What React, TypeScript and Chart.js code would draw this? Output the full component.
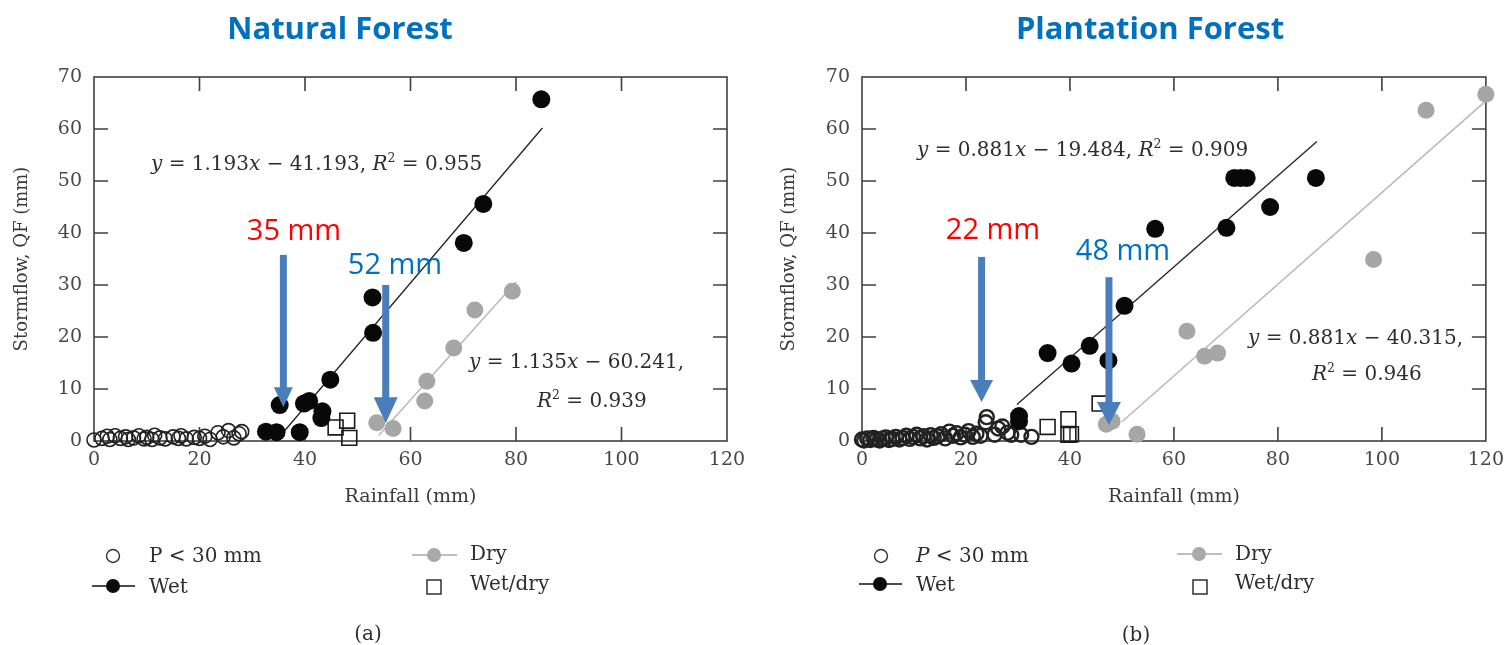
import React, { useEffect, useRef } from "react";
import { Chart, registerables } from "chart.js";

Chart.register(...registerables);

const SERIF = "'DejaVu Serif', serif";
const SANS = "'Open Sans', sans-serif";
const BLUE = "#0070C0";
const RED = "#FF0000";
const ARROW = "#4A7EBB";

// ---- axes ----
const X_TICKS = [0, 20, 40, 60, 80, 100, 120];
const Y_TICKS = [0, 10, 20, 30, 40, 50, 60, 70];
const X_TITLE = "Rainfall (mm)";
const Y_TITLE = "Stormflow, QF (mm)";

// ---- (a) Natural Forest ----
const NF_P30_X = [0, 1.5, 2.5, 3, 4, 5, 6, 6.5, 7.5, 8.5, 9.5, 10, 11, 11.5, 12.5, 13.5, 15, 16, 16.5, 17.5, 19, 20, 21, 22, 23.5, 24.5, 25.5, 26.5, 27.5, 28];
const NF_P30_Y = [0.2, 0.5, 0.9, 0.3, 1.0, 0.5, 0.8, 0.3, 0.6, 1.0, 0.4, 0.7, 0.3, 1.1, 0.6, 0.4, 0.8, 0.5, 1.0, 0.4, 0.7, 0.5, 0.9, 0.3, 1.6, 0.8, 2.0, 0.6, 1.4, 1.8];
const NF_WET_X = [32.6, 34.6, 35.2, 39, 39.8, 40.8, 43.3, 43.1, 44.8, 52.8, 52.9, 70.1, 73.8, 84.8];
const NF_WET_Y = [1.8, 1.7, 6.9, 1.7, 7.2, 7.7, 5.7, 4.4, 11.8, 27.6, 20.8, 38.1, 45.6, 65.7];
const NF_DRY_X = [53.6, 56.7, 62.7, 63.1, 68.2, 72.2, 79.3];
const NF_DRY_Y = [3.5, 2.4, 7.7, 11.5, 17.9, 25.2, 28.8];
const NF_WD_X = [45.8, 48, 48.4];
const NF_WD_Y = [2.6, 3.9, 0.6];
const NF_WET_FIT_X = [35.5, 85];
const NF_WET_FIT_Y = [1.2, 60.2];
const NF_DRY_FIT_X = [54, 80];
const NF_DRY_FIT_Y = [1.1, 30.6];
const NF_ARROWS = [
  { x: 35.9, from: 35.8, to: 6.5, shaft: 7, headW: 19, headL: 20 },
  { x: 55.3, from: 30, to: 3.4, shaft: 7, headW: 24, headL: 26 },
];

// ---- (b) Plantation Forest ----
const PF_P30_X = [0, 0.4, 1, 1.6, 2.2, 2.8, 3.4, 4, 4.6, 5.2, 5.8, 6.5, 7.2, 7.8, 8.5, 9.2, 9.8, 10.5, 11.2, 11.8, 12.5, 13.2, 13.8, 14.5, 15.2, 16, 16.8, 17.5, 18.2, 19, 19.8, 20.5, 21.3, 22, 22.8, 23.8, 24, 25.5, 26.2, 27, 28, 28.7, 30.6, 32.6];
const PF_P30_Y = [0.3, 0.1, 0.5, 0.2, 0.6, 0.3, 0.1, 0.5, 0.7, 0.2, 0.4, 0.8, 0.3, 0.6, 1.0, 0.4, 0.8, 1.2, 0.5, 0.9, 0.3, 1.1, 0.6, 0.9, 1.3, 0.5, 1.8, 1.0, 1.5, 0.7, 1.2, 1.9, 0.8, 1.4, 1.0, 3.6, 4.6, 1.2, 2.4, 2.8, 1.6, 1.2, 1.2, 0.8];
const PF_WET_X = [30.2, 30.2, 35.7, 40.3, 43.8, 47.4, 50.5, 56.4, 70.1, 71.6, 72.8, 74, 78.5, 87.3];
const PF_WET_Y = [4.8, 3.8, 16.9, 14.9, 18.3, 15.5, 26, 40.8, 41, 50.6, 50.6, 50.6, 45, 50.6];
const PF_DRY_X = [47, 48.1, 52.9, 62.5, 65.9, 68.4, 98.4, 108.5, 120];
const PF_DRY_Y = [3.2, 3.8, 1.3, 21.1, 16.3, 16.9, 34.9, 63.6, 66.7];
const PF_WD_X = [35.7, 39.7, 39.7, 40.2, 45.7];
const PF_WD_Y = [2.7, 4.2, 1.2, 1.3, 7.2];
const PF_WET_FIT_X = [29.8, 87.5];
const PF_WET_FIT_Y = [7, 57.6];
const PF_DRY_FIT_X = [50, 120];
const PF_DRY_FIT_Y = [3.7, 65.4];
const PF_ARROWS = [
  { x: 23, from: 35.4, to: 7.5, shaft: 7, headW: 23, headL: 22 },
  { x: 47.5, from: 31.5, to: 3.1, shaft: 7, headW: 24, headL: 23 },
];

type Arrow = { x: number; from: number; to: number; shaft: number; headW: number; headL: number };
type Spec = {
  left: number; width: number; padLeft: number; padRight: number; yAxisWidth: number; p30Border: number;
  p30x: number[]; p30y: number[]; wetx: number[]; wety: number[];
  dryx: number[]; dryy: number[]; wdx: number[]; wdy: number[];
  wfx: number[]; wfy: number[]; dfx: number[]; dfy: number[];
  arrows: Arrow[];
};

const CANVAS_H = 520;

function buildChart(canvas: HTMLCanvasElement, s: Spec) {
  const pts = (xs: number[], ys: number[]) => xs.map((x, i) => ({ x, y: ys[i] }));
  const framePlugin = {
    id: "frameTicks",
    beforeDatasetsDraw(chart: any) {
      const { ctx, chartArea: a, scales } = chart;
      ctx.save();
      ctx.strokeStyle = "#404040";
      ctx.lineWidth = 1.6;
      ctx.strokeRect(a.left, a.top, a.right - a.left, a.bottom - a.top);
      const L = 14;
      ctx.beginPath();
      X_TICKS.forEach((v) => {
        if (v === X_TICKS[0] || v === X_TICKS[X_TICKS.length - 1]) return;
        const px = scales.x.getPixelForValue(v);
        ctx.moveTo(px, a.bottom); ctx.lineTo(px, a.bottom - L);
        ctx.moveTo(px, a.top); ctx.lineTo(px, a.top + L);
      });
      Y_TICKS.forEach((v) => {
        if (v === Y_TICKS[0] || v === Y_TICKS[Y_TICKS.length - 1]) return;
        const py = scales.y.getPixelForValue(v);
        ctx.moveTo(a.left, py); ctx.lineTo(a.left + L, py);
        ctx.moveTo(a.right, py); ctx.lineTo(a.right - L, py);
      });
      ctx.stroke();
      ctx.restore();
    },
  };
  const arrowPlugin = {
    id: "arrows",
    afterDatasetsDraw(chart: any) {
      const { ctx, scales } = chart;
      ctx.save();
      ctx.fillStyle = ARROW;
      s.arrows.forEach((a) => {
        const x = scales.x.getPixelForValue(a.x);
        const y0 = scales.y.getPixelForValue(a.from);
        const y1 = scales.y.getPixelForValue(a.to);
        const hb = y1 - a.headL;
        ctx.fillRect(x - a.shaft / 2, y0, a.shaft, hb - y0 + 1);
        ctx.beginPath();
        ctx.moveTo(x - a.headW / 2, hb);
        ctx.lineTo(x + a.headW / 2, hb);
        ctx.lineTo(x, y1);
        ctx.closePath();
        ctx.fill();
      });
      ctx.restore();
    },
  };
  const tickFont = { family: SERIF, size: 19 };
  return new Chart(canvas, {
    type: "scatter",
    data: {
      datasets: [
        { label: "Wet", data: pts(s.wetx, s.wety), pointRadius: 9, pointBackgroundColor: "#080808", pointBorderColor: "#080808", pointBorderWidth: 0, clip: false } as any,
        { label: "Dry", data: pts(s.dryx, s.dryy), pointRadius: 8.5, pointBackgroundColor: "#a6a6a6", pointBorderColor: "#a6a6a6", pointBorderWidth: 0, clip: false },
        { label: "Wet/dry", data: pts(s.wdx, s.wdy), pointStyle: "rect", pointRadius: 10.5, pointBackgroundColor: "rgba(255,255,255,0)", pointBorderColor: "#1a1a1a", pointBorderWidth: 1.6, clip: false },
        { label: "P < 30 mm", data: pts(s.p30x, s.p30y), pointRadius: 7, pointBackgroundColor: "rgba(255,255,255,0)", pointBorderColor: "#222", pointBorderWidth: s.p30Border, clip: false },
        { label: "Wet fit", data: pts(s.wfx, s.wfy), showLine: true, pointRadius: 0, borderColor: "#222", borderWidth: 1.3, clip: false },
        { label: "Dry fit", data: pts(s.dfx, s.dfy), showLine: true, pointRadius: 0, borderColor: "#b8b8b8", borderWidth: 1.5, clip: false },
      ],
    },
    options: {
      animation: false,
      responsive: false,
      maintainAspectRatio: false,
      events: [],
      layout: { autoPadding: false, padding: { left: s.padLeft, right: s.padRight, top: 77, bottom: 12 } } as any,
      plugins: { legend: { display: false }, tooltip: { enabled: false }, title: { display: false } },
      scales: {
        x: {
          type: "linear", min: X_TICKS[0], max: X_TICKS[X_TICKS.length - 1],
          afterBuildTicks: (sc: any) => { sc.ticks = X_TICKS.map((v) => ({ value: v })); },
          afterFit: (sc: any) => { sc.height = 67; },
          grid: { display: false, drawTicks: false, tickLength: 0 },
          border: { display: false },
          ticks: { padding: 8, color: "#484848", font: tickFont, maxRotation: 0, autoSkip: false },
          title: { display: true, text: X_TITLE, color: "#3a3a3a", font: tickFont, padding: 0 },
        },
        y: {
          type: "linear", min: Y_TICKS[0], max: Y_TICKS[Y_TICKS.length - 1],
          afterBuildTicks: (sc: any) => { sc.ticks = Y_TICKS.map((v) => ({ value: v })); },
          afterFit: (sc: any) => { sc.width = s.yAxisWidth; },
          grid: { display: false, drawTicks: false, tickLength: 0 },
          border: { display: false },
          ticks: { padding: 12, color: "#484848", font: tickFont, autoSkip: false },
          title: { display: true, text: Y_TITLE, color: "#3a3a3a", font: { family: SERIF, size: 18 }, padding: 0 },
        },
      },
    } as any,
    plugins: [framePlugin, arrowPlugin],
  });
}

function PanelCanvas({ spec }: { spec: Spec }) {
  const ref = useRef<HTMLCanvasElement>(null);
  useEffect(() => {
    if (!ref.current) return;
    const c = buildChart(ref.current, spec);
    return () => c.destroy();
  }, [spec]);
  return (
    <canvas
      ref={ref}
      width={spec.width}
      height={CANVAS_H}
      style={{ position: "absolute", left: spec.left, top: 0, width: spec.width, height: CANVAS_H }}
    />
  );
}

const NF_SPEC: Spec = {
  left: 0, width: 760, padLeft: 12, padRight: 33, yAxisWidth: 82, p30Border: 1.6,
  p30x: NF_P30_X, p30y: NF_P30_Y, wetx: NF_WET_X, wety: NF_WET_Y,
  dryx: NF_DRY_X, dryy: NF_DRY_Y, wdx: NF_WD_X, wdy: NF_WD_Y,
  wfx: NF_WET_FIT_X, wfy: NF_WET_FIT_Y, dfx: NF_DRY_FIT_X, dfy: NF_DRY_FIT_Y,
  arrows: NF_ARROWS,
};
const PF_SPEC: Spec = {
  left: 760, width: 752, padLeft: 19, padRight: 19, yAxisWidth: 83, p30Border: 2.4,
  p30x: PF_P30_X, p30y: PF_P30_Y, wetx: PF_WET_X, wety: PF_WET_Y,
  dryx: PF_DRY_X, dryy: PF_DRY_Y, wdx: PF_WD_X, wdy: PF_WD_Y,
  wfx: PF_WET_FIT_X, wfy: PF_WET_FIT_Y, dfx: PF_DRY_FIT_X, dfy: PF_DRY_FIT_Y,
  arrows: PF_ARROWS,
};

function Txt({ x, y, align = "center", style, children }: any) {
  return (
    <div
      style={{
        position: "absolute", left: x, top: y,
        transform: align === "center" ? "translate(-50%, -50%)" : "translate(0, -50%)",
        whiteSpace: "nowrap", lineHeight: 1.2, ...style,
      }}
    >
      {children}
    </div>
  );
}

const eqStyle = { fontFamily: SERIF, fontSize: 20, color: "#2e2e2e" };
const legStyle = { fontFamily: SERIF, fontSize: 20, color: "#2e2e2e" };
const Sup = ({ children }: any) => (
  <sup style={{ fontSize: "0.62em", lineHeight: 0, verticalAlign: "0.62em" }}>{children}</sup>
);

function LegendMarks() {
  return (
    <svg width={1512} height={645} style={{ position: "absolute", left: 0, top: 0, pointerEvents: "none" }}>
      {/* (a) */}
      <circle cx={113} cy={556} r={6.5} fill="none" stroke="#333" strokeWidth={1.4} />
      <line x1={92} y1={586} x2={135} y2={586} stroke="#111" strokeWidth={1.5} />
      <circle cx={113} cy={586} r={7} fill="#0b0b0b" />
      <line x1={412} y1={555} x2={457} y2={555} stroke="#a9a9a9" strokeWidth={1.5} />
      <circle cx={434} cy={555} r={7} fill="#a9a9a9" />
      <rect x={427} y={580} width={14} height={14} fill="none" stroke="#222" strokeWidth={1.4} />
      {/* (b) */}
      <circle cx={881} cy={556} r={6.5} fill="none" stroke="#333" strokeWidth={1.4} />
      <line x1={859} y1={584} x2={902} y2={584} stroke="#111" strokeWidth={1.5} />
      <circle cx={880} cy={584} r={7} fill="#0b0b0b" />
      <line x1={1177} y1={554} x2={1222} y2={554} stroke="#a9a9a9" strokeWidth={1.5} />
      <circle cx={1199} cy={554} r={7} fill="#a9a9a9" />
      <rect x={1193} y={580} width={14} height={14} fill="none" stroke="#222" strokeWidth={1.4} />
    </svg>
  );
}

export default function App() {
  return (
    <div style={{ position: "fixed", left: 0, top: 0, width: 1512, height: 645, background: "#fff", overflow: "hidden" }}>
      <PanelCanvas spec={NF_SPEC} />
      <PanelCanvas spec={PF_SPEC} />
      <LegendMarks />

      {/* titles */}
      <Txt x={340} y={28} style={{ fontFamily: SANS, fontWeight: 700, fontSize: 31, color: BLUE }}>Natural Forest</Txt>
      <Txt x={1150} y={28} style={{ fontFamily: SANS, fontWeight: 700, fontSize: 31, color: BLUE }}>Plantation Forest</Txt>

      {/* threshold labels */}
      <Txt x={294} y={229} style={{ fontFamily: SANS, fontSize: 29, color: RED }}>35 mm</Txt>
      <Txt x={395} y={263} style={{ fontFamily: SANS, fontSize: 29, color: BLUE }}>52 mm</Txt>
      <Txt x={993} y={228} style={{ fontFamily: SANS, fontSize: 29, color: RED }}>22 mm</Txt>
      <Txt x={1123} y={249} style={{ fontFamily: SANS, fontSize: 29, color: BLUE }}>48 mm</Txt>

      {/* regression equations */}
      <Txt x={151} y={163} align="left" style={eqStyle}><i>y</i> = 1.193<i>x</i> − 41.193, <i>R</i><Sup>2</Sup> = 0.955</Txt>
      <Txt x={469} y={361} align="left" style={eqStyle}><i>y</i> = 1.135<i>x</i> − 60.241,</Txt>
      <Txt x={537} y={400} align="left" style={eqStyle}><i>R</i><Sup>2</Sup> = 0.939</Txt>
      <Txt x={917} y={149} align="left" style={eqStyle}><i>y</i> = 0.881<i>x</i> − 19.484, <i>R</i><Sup>2</Sup> = 0.909</Txt>
      <Txt x={1248} y={337} align="left" style={eqStyle}><i>y</i> = 0.881<i>x</i> − 40.315,</Txt>
      <Txt x={1312} y={373} align="left" style={eqStyle}><i>R</i><Sup>2</Sup> = 0.946</Txt>

      {/* legends */}
      <Txt x={149} y={555} align="left" style={legStyle}>P &lt; 30 mm</Txt>
      <Txt x={149} y={586} align="left" style={legStyle}>Wet</Txt>
      <Txt x={470} y={553} align="left" style={legStyle}>Dry</Txt>
      <Txt x={470} y={583} align="left" style={legStyle}>Wet/dry</Txt>
      <Txt x={368} y={633} style={legStyle}>(a)</Txt>

      <Txt x={916} y={555} align="left" style={legStyle}><i>P</i> &lt; 30 mm</Txt>
      <Txt x={916} y={584} align="left" style={legStyle}>Wet</Txt>
      <Txt x={1235} y={553} align="left" style={legStyle}>Dry</Txt>
      <Txt x={1235} y={582} align="left" style={legStyle}>Wet/dry</Txt>
      <Txt x={1136} y={634} style={legStyle}>(b)</Txt>
    </div>
  );
}
